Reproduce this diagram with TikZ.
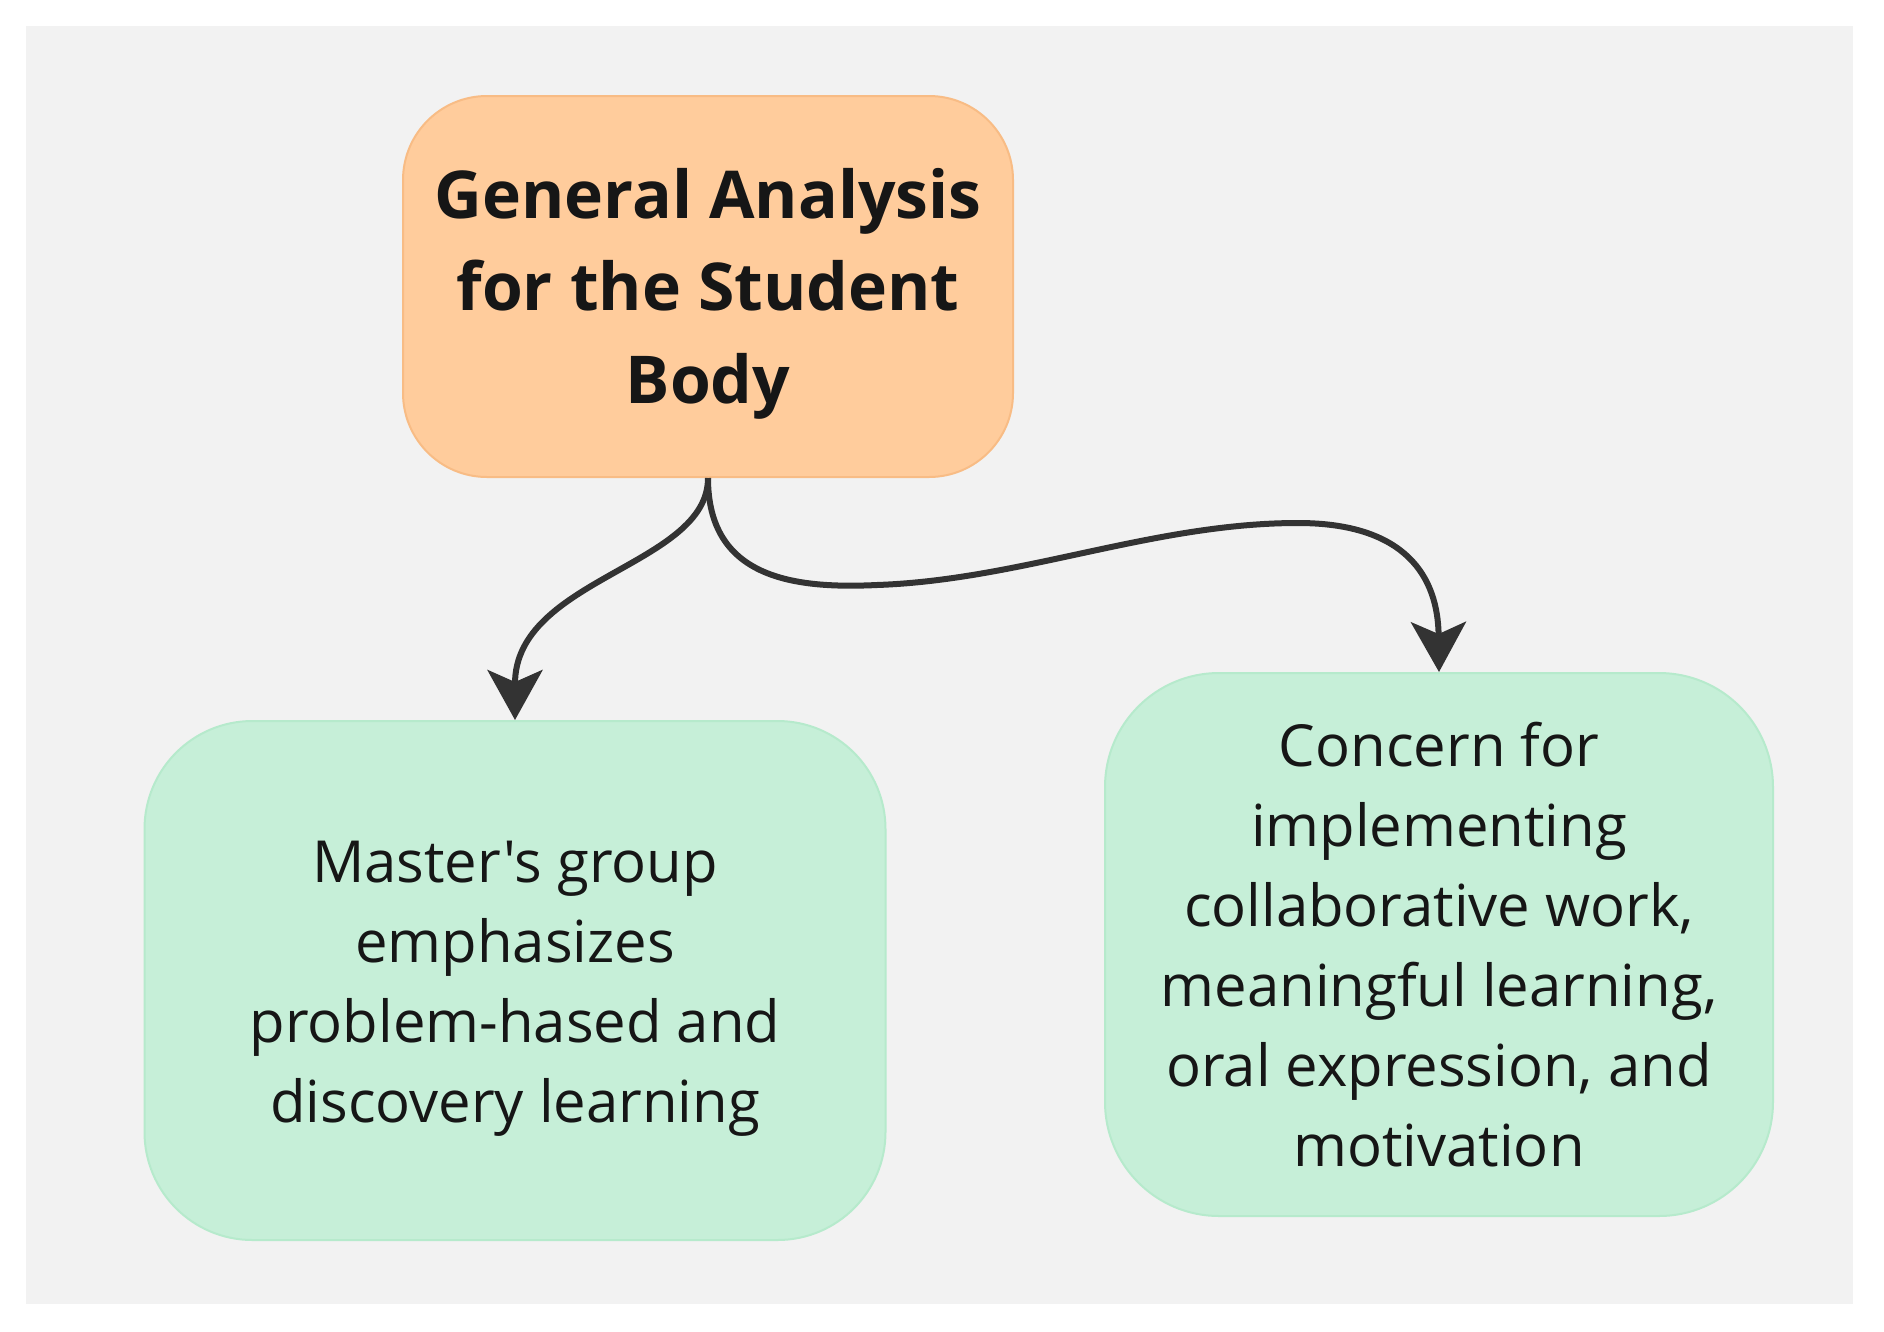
\documentclass[tikz,border=0pt]{standalone}
\usepackage{fontspec}
\setmainfont{Open Sans}[Ligatures=TeXOff]
\usetikzlibrary{arrows.meta}
\definecolor{bgc}{HTML}{F2F2F2}
\definecolor{orfill}{HTML}{FFCC9C}
\definecolor{ordraw}{HTML}{F8BC85}
\definecolor{grfill}{HTML}{C6EFD8}
\definecolor{grdraw}{HTML}{B6EACC}
\definecolor{txt}{HTML}{161616}
\definecolor{arr}{HTML}{333333}
\tikzset{
  boxshape/.style={line width=2pt, inner sep=0pt},
  topbox/.style={boxshape, draw=ordraw, fill=orfill, rounded corners=84pt,
    minimum width=610pt, minimum height=381pt},
  leafbox/.style={boxshape, draw=grdraw, fill=grfill},
  boldtext/.style={align=center, text=txt, inner sep=0pt,
    font=\fontsize{66}{92.5}\selectfont\bfseries},
  plaintext/.style={align=center, text=txt, inner sep=0pt,
    font=\fontsize{58}{80}\selectfont},
  conn/.style={draw=arr, line width=6pt, -{Stealth[length=50pt, width=55pt, inset=12pt]}}
}
\begin{document}
\begin{tikzpicture}[x=1pt, y=-1pt]
\useasboundingbox (0,0) rectangle (1884,1331);
\fill[white] (0,0) rectangle (1884,1331);
\fill[bgc] (26,26) rectangle (1853,1304);
\node[topbox] (top) at (708,286.5) {};
\node[boldtext] (toptext) at ([yshift=-7pt]top.center) {General Analysis\\for the Student\\Body};
\node[leafbox, rounded corners=108pt, minimum width=741pt, minimum height=519pt] (left) at (515,980.5) {};
\node[plaintext] (lefttext) at ([yshift=-8pt]left.center)
  {Master's group\\emphasizes\\problem-hased and\\discovery learning};
\node[leafbox, rounded corners=114pt, minimum width=668pt, minimum height=543pt] (right) at (1439,944.5) {};
\node[plaintext] (righttext) at (right.center)
  {Concern for\\implementing\\collaborative work,\\meaningful learning,\\oral expression, and\\motivation};
\draw[conn] (top.south) .. controls ++(0,88) and ++(0,-142) .. (left.north);
\draw[conn] (top.south) .. controls ++(0,100) and (793,589) .. (877,585)
  .. controls (1021,580) and (1153,523) .. (1298,523)
  .. controls (1406,523) and (1438,577) .. (right.north);
\end{tikzpicture}
\end{document}
